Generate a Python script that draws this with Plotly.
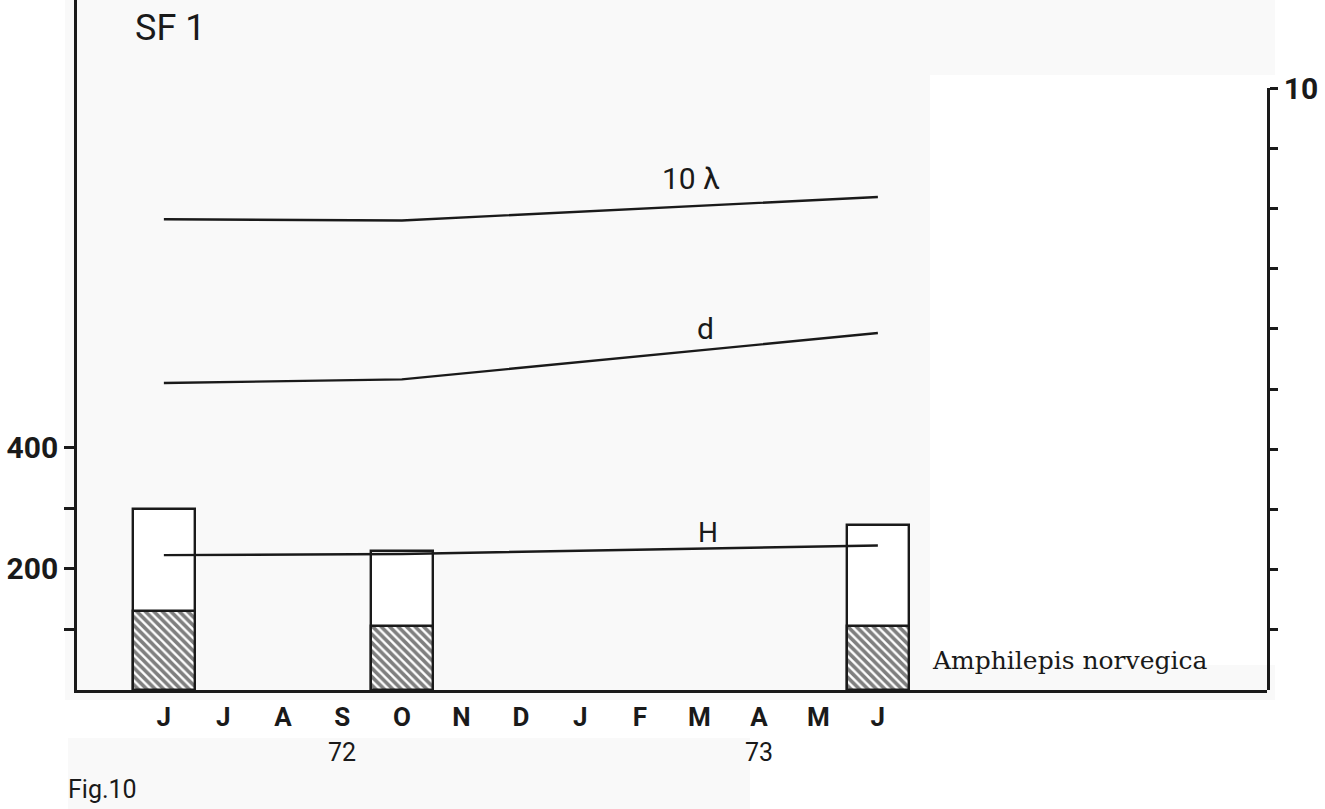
import plotly.graph_objects as go

# ---- data ----
months = ["J", "J", "A", "S", "O", "N", "D", "J", "F", "M", "A", "M", "J"]
month_idx = list(range(len(months)))
sample_idx = [0, 4, 12]                    # J-72, O-72, J-73
total_ind = [299, 230, 272]                # open bars (left axis)
amphilepis = [130, 106, 106]               # hatched part (left axis)
lambda10 = [7.82, 7.80, 8.19]              # 10·λ (right axis)
d_vals = [5.10, 5.16, 5.93]                # d (right axis)
h_vals = [2.24, 2.26, 2.40]                # H (right axis)
left_ticks = [100, 200, 300, 400]
left_ticktext = ["", "200", "", "400"]
right_ticks = [1, 2, 3, 4, 5, 6, 7, 8, 9, 10]
right_ticktext = ["", "", "", "", "", "", "", "", "", "10"]

W, H = 1325, 809
L, R, T, B = 77, 58, 0, 119
PW, PH = W - L - R, H - T - B
ink = "#1a1a1a"
paper_grey = "#f9f9f9"
sans = "Liberation Sans Narrow, Roboto, DejaVu Sans, sans-serif"


def px(xp):
    return (xp - L) / PW


def py(yp):
    return (H - B - yp) / PH


fig = go.Figure()

fig.add_trace(go.Bar(
    x=sample_idx, y=total_ind, width=1.03,
    marker=dict(color="white", line=dict(color=ink, width=2.4)),
    showlegend=False, hoverinfo="skip"))
fig.add_trace(go.Bar(
    x=sample_idx, y=amphilepis, width=1.03,
    marker=dict(color="white", line=dict(color=ink, width=2.4),
                pattern=dict(shape="\\", fgcolor="#000000", bgcolor="white",
                             size=6, solidity=0.6)),
    showlegend=False, hoverinfo="skip"))

for vals in (lambda10, d_vals, h_vals):
    fig.add_trace(go.Scatter(
        x=sample_idx, y=vals, yaxis="y2", mode="lines",
        line=dict(color=ink, width=2.4), showlegend=False, hoverinfo="skip"))

ann = []


def txt(text, x, y, xref, yref, size, weight="normal", family=sans, xanchor="center"):
    ann.append(dict(text=text, x=x, y=y, xref=xref, yref=yref, showarrow=False,
                    xanchor=xanchor, yanchor="middle",
                    font=dict(size=size, color=ink, family=family, weight=weight)))


txt("10 λ", 8.86, 8.49, "x", "y2", 30)
txt("d", 9.11, 6.0, "x", "y2", 30)
txt("H", 9.14, 2.62, "x", "y2", 28)
txt("SF 1", px(133), py(28), "paper", "paper", 36, xanchor="left")
txt("Amphilepis norvegica", px(930), py(660), "paper", "paper", 25,
    family="DejaVu Serif, Liberation Serif, serif", xanchor="left")
txt("Fig.10", px(66), py(789), "paper", "paper", 25, xanchor="left")
txt("72", 3, py(752), "x", "paper", 25)
txt("73", 10, py(752), "x", "paper", 25)


def rect(x0, x1, y0, y1, color):
    return dict(type="rect", xref="paper", yref="paper", x0=px(x0), x1=px(x1),
                y0=py(y1), y1=py(y0), fillcolor=color, line=dict(width=0),
                layer="below")


shapes = [
    rect(65, 1275, -5, 700, paper_grey),
    rect(930, 1275, 75, 665, "white"),
    rect(68, 750, 738, 815, paper_grey),
]

fig.update_layout(
    width=W, height=H, margin=dict(l=L, r=R, t=T, b=B, autoexpand=False),
    paper_bgcolor="white", plot_bgcolor="rgba(0,0,0,0)",
    barmode="overlay", bargap=0,
    annotations=ann, shapes=shapes,
    xaxis=dict(range=[-1.46, 18.54], tickmode="array", tickvals=month_idx,
               ticktext=months, showgrid=False, zeroline=False, showline=True,
               linecolor=ink, linewidth=2.5, ticks="", ticklabelstandoff=2,
               automargin=False,
               tickfont=dict(size=26, color=ink, family=sans, weight="bold")),
    yaxis=dict(range=[0, 1140], tickmode="array", tickvals=left_ticks,
               ticktext=left_ticktext, showgrid=False, zeroline=False,
               showline=True, linecolor=ink, linewidth=2.5, ticks="outside",
               ticklen=10, tickwidth=2.5, tickcolor=ink, automargin=False,
               tickfont=dict(size=30, color=ink, family=sans, weight="bold")),
    yaxis2=dict(range=[0, 10], domain=[0, (691 - 89) / PH], anchor="x", side="right",
                tickmode="array", tickvals=right_ticks, ticktext=right_ticktext,
                showgrid=False, zeroline=False, showline=True, linecolor=ink,
                linewidth=2.5, ticks="outside", ticklen=8, tickwidth=2.5,
                tickcolor=ink, automargin=False,
                tickfont=dict(size=30, color=ink, family=sans, weight="bold")),
)

fig.write_html("out.html", config={"displayModeBar": False},
               post_script="document.body.style.margin='0';"
                           "document.body.style.overflow='hidden';")
